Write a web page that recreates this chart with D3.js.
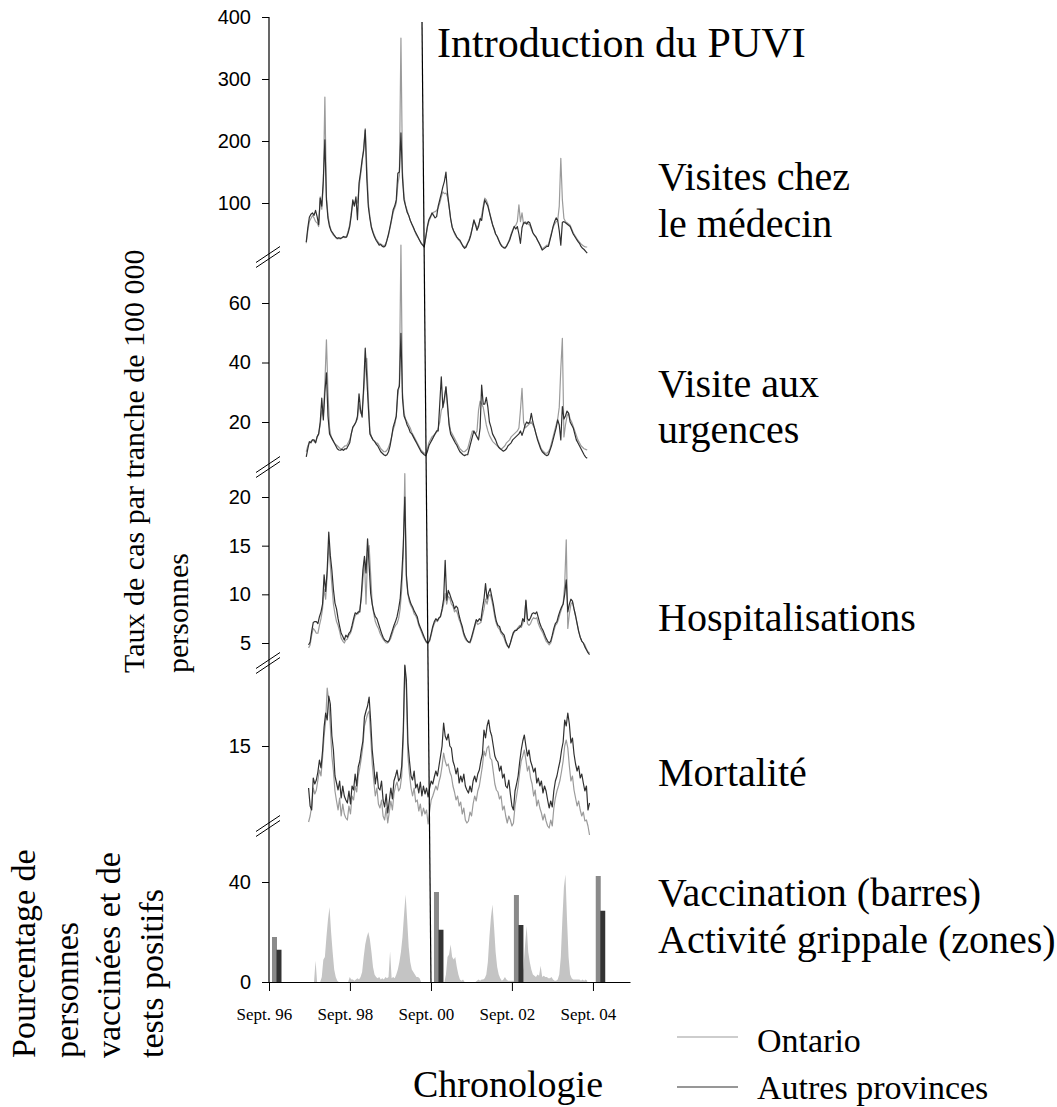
<!DOCTYPE html>
<html>
<head>
<meta charset="utf-8">
<script src="https://cdn.jsdelivr.net/npm/d3@7"></script>
<style>
body { margin: 0; background: #fff; }
.serif { font-family: "Liberation Serif", "Times New Roman", serif; fill: #000; }
.yaxis text { font-family: "Liberation Sans", Arial, sans-serif; font-size: 20px; fill: #000; }
.xaxis text { font-family: "Liberation Serif", "Times New Roman", serif; font-size: 17px; fill: #000; }
</style>
</head>
<body>
<svg id="chart" width="1057" height="1107"></svg>
<script>
// one value every 2 weeks, 7 seasons of 26 values (Aug 1997 -> Jul 2004)

// Visites chez le médecin
var visitsOntario = [
  35,55,70,75,80,76,70,68,62,110,90,130,271,110,80,65,56,50,47,44,42,43,42,44,45,44,
  46,55,65,85,100,98,105,100,125,145,165,190,220,160,100,78,62,54,47,42,38,35,34,32,31,33,
  40,48,60,72,85,92,100,130,145,366,150,110,96,88,80,72,66,60,54,48,44,40,36,33,31,45,
  60,70,76,82,85,86,88,92,100,110,118,115,116,110,95,75,62,54,48,44,41,38,34,31,29,31,
  36,42,50,60,70,66,60,64,72,80,95,108,105,98,86,75,66,58,50,46,40,35,31,29,28,31,
  36,42,50,57,62,64,70,97,70,84,66,70,68,66,64,58,52,48,45,40,36,31,26,28,30,32,
  32,42,52,60,66,70,72,95,172,105,75,70,68,66,64,58,52,48,44,40,37,34,32,30,29,29
];
var visitsOthers = [
  37,60,77,82,84,80,88,78,65,108,95,137,202,105,75,62,55,52,48,45,43,44,43,44,46,45,
  45,52,62,80,105,95,110,73,132,150,170,185,218,140,94,75,60,52,45,40,36,32,33,30,29,31,
  40,50,62,75,89,95,105,148,150,213,140,105,95,85,80,72,66,61,55,50,45,40,35,32,29,45,
  62,73,78,84,80,76,78,95,105,115,126,135,150,116,95,75,61,55,50,45,42,40,35,30,27,29,
  35,40,48,60,73,65,56,62,75,72,90,105,100,95,85,75,65,58,50,46,40,34,30,28,27,30,
  35,40,48,55,62,58,62,50,35,60,68,68,66,70,68,60,52,48,45,40,35,30,24,26,28,30,
  30,40,50,62,70,76,72,55,32,69,70,68,66,64,62,56,50,46,42,38,35,30,27,25,22,19
];

// Visite aux urgences
var erOntario = [
  10,12,13,13.5,14,13.5,13,15,16,19,24,22,33,47.6,30,18,15,14,13,12.5,12,11.5,11,11,11.5,12,
  12,13,14,16,18,19,20,21,26,23,24,30,38,41.4,28,17,15,14,13.5,13,12.8,12,11,10.5,10,10,
  10.5,11.5,13,15,17.5,19,22,29,33,79.5,30,23,21,20,19,18,16.5,15.5,14.5,13.5,12.5,11.5,10.5,10,9.5,9.5,
  11,13,14,15,15.5,16,16.5,18,20,24,25,27,31.8,25,20,17,16,15,14,13,12,11,10.5,10,10,10.5,
  11,13,15,17,16.5,16,17,24,27,26,25,22,19,17,15.5,14.5,13.5,13,12.5,12,11.5,11,11,11.5,12,13,
  13.5,14,15,15.5,16,16.5,17,18,24,31.3,20,18,18.5,19,19.5,20,19,18,16,14.5,13,11.5,10.5,10,9.5,9.5,
  10,11,13,15,17,19,21,25,38,48.1,15,19,22,23,21,20,18.5,17,15.5,14,13,12,11.5,11,10.8,10.6
];
var erOthers = [
  8.3,11,13.4,13,14,14,13,15,16,20,28,20.7,30,36.5,22,16,15,14,13,12,11,10.6,10.5,10.8,10.5,11,
  11,12,13,16,18.3,19,20,22,29.5,24,21.6,32,44.8,35,25,16,15,14,13.5,12.6,12,11,10,9.5,9,8.7,
  9,10,12,15,18.3,20,22,30.8,32,49.8,28,22,20.7,19,18,16.5,16,15,14,13,12,11,10,9.5,9,8.7,
  10,12,13,14,15,16,17,17,26,35.2,24.9,28,31.8,26,19,16,15,14,13,12.2,11,10,9.5,9,8.7,9,
  9,11,13,15,17,16,15,14,18,32.4,26,26,28.3,25,20,18.3,16,15,14,12.5,11.5,11,10.6,10.2,10.5,11,
  12,12.5,13,14,14.5,15,15.5,16,17,15.5,17,19,20,19.5,20,22.9,20,18,16,14,12.5,11,10,9.5,9,8.7,
  9,10.5,12,14,16,18,20.7,19,14,25.2,21,22,23.7,23,20,19,18,16,14,13,12,11,10,9,8.2,7.8
];

// Hospitalisations
var hospOntario = [
  4.5,4.8,5.8,6.5,6.3,6.0,6.0,6.8,7.5,8.5,10.5,9.5,12.0,15.2,13.0,11.0,9.0,8.0,7.2,6.8,6.2,5.5,5.2,5.0,5.3,5.4,
  5.8,6.0,6.5,7.2,7.8,8.0,8.0,8.5,9.5,11.5,13.5,9.0,14.0,15.0,12.0,9.0,8.0,7.2,6.8,6.5,6.0,5.7,5.4,5.2,5.0,5.0,
  5.2,5.5,6.0,6.5,6.8,7.0,7.5,8.5,10.5,14.0,22.4,11.5,10.0,9.2,8.8,8.5,8.0,7.8,7.4,6.8,6.4,6.0,5.6,5.3,5.0,5.0,
  5.2,5.8,6.5,7.0,7.3,7.2,7.5,7.8,8.3,9.0,10.1,9.0,9.8,9.6,9.0,8.8,8.2,8.4,8.0,7.4,7.0,6.4,5.8,5.4,5.2,5.1,
  5.0,5.4,6.0,6.6,7.2,6.9,7.0,7.1,7.8,8.5,9.5,9.0,9.8,10.0,9.4,8.6,7.6,7.0,6.6,6.4,6.0,5.8,5.5,5.0,4.7,4.6,
  5.0,5.5,6.0,6.2,6.4,6.6,6.8,6.6,7.0,7.5,9.3,7.0,6.8,7.0,7.4,7.6,7.5,7.6,7.0,6.6,6.3,6.0,5.6,5.2,5.0,4.8,
  5.0,5.6,6.2,6.8,7.0,7.4,8.0,8.5,9.0,11.0,15.6,6.5,8.0,9.0,9.2,8.5,7.8,7.0,6.2,5.6,5.2,5.0,4.8,4.4,4.1,4.0
];
var hospOthers = [
  4.8,5.1,6.2,7.1,7.2,7.2,7.0,7.7,8.2,9.0,12.0,10.3,12.5,16.4,14.0,12.5,10.5,9.1,8.5,7.5,6.7,6.0,5.7,5.3,5.8,5.6,
  6.0,6.2,6.8,7.5,8.1,8.0,8.2,8.2,10,12.5,13.9,12.2,15.7,13,10.1,9,8.2,7.7,7.5,7,6.5,6.0,5.6,5.3,5.2,5.1,
  5.3,5.8,6.3,6.8,7.2,7.7,8.5,9.5,11.8,15,20.0,12,10.1,9.5,9.0,8.7,8.3,8.0,7.7,7.0,6.6,6.2,5.8,5.4,5.1,5.0,
  5.3,6.0,6.7,7.2,7.5,7.3,7.6,7.7,8.5,9.5,13.5,9.4,10.4,10,9.5,9.1,8.5,8.8,8.6,7.8,7.2,6.7,6.0,5.6,5.3,5.1,
  5.1,5.6,6.2,6.8,7.4,7.2,7.5,7.3,8.5,9.5,11.1,9.5,10.2,10.6,9.8,9.0,8.0,7.2,6.8,6.7,6.2,6.0,5.8,5.2,4.8,4.5,
  5.0,5.6,6.1,6.3,6.3,6.5,6.6,6.8,7.5,7.2,9.4,7.5,7.3,7.6,8.0,8.1,8.0,8.2,7.6,7.0,6.6,6.3,5.9,5.5,5.2,5.0,
  5.2,5.8,6.5,7.0,7.2,7.8,8.3,8.7,9.0,10.0,11.5,8.2,9.0,9.5,9.3,8.5,7.8,7.0,6.2,5.6,5.2,5.0,4.6,4.3,4.0,3.8
];

// Mortalité
var deathsOntario = [
  7.4,8.0,9.0,10.8,10.2,10.6,11.6,12.6,12.0,13.8,16.0,17.5,20.8,19.5,17.0,14.0,12.5,10.5,9.5,8.6,9.8,8.0,9.2,8.2,7.8,7.6,
  9.0,8.2,10.0,9.6,11.0,10.4,12.0,12.8,13.8,15.0,17.0,17.6,18.2,18.5,16.0,13.2,11.5,10.0,10.8,9.2,8.8,9.6,8.0,7.6,8.8,7.3,
  8.4,9.5,8.6,10.2,11.0,11.4,10.5,10.8,12.0,15.5,23.0,20.5,14.0,12.2,10.8,10.0,10.8,9.4,9.6,8.5,9.2,8.0,8.8,8.2,8.6,7.2,
  8.5,9.6,10.0,10.5,11.0,10.6,11.4,12.0,13.0,14.3,13.5,13.0,13.2,12.4,12.0,11.0,10.4,9.6,10.0,9.0,9.4,8.2,8.8,7.6,7.3,7.5,
  8.4,8.0,9.2,10.0,9.5,10.5,11.0,12.0,13.0,14.5,14.0,14.8,15.0,13.8,13.6,12.4,11.2,10.6,10.4,9.7,10.0,8.6,9.0,8.0,7.3,8.0,
  7.6,7.0,7.3,9.0,10.0,11.0,12.4,13.5,14.0,14.6,13.6,12.5,13.0,11.8,11.2,10.0,10.6,9.0,9.6,8.8,8.3,7.6,8.2,7.5,7.0,6.8,
  7.6,7.0,8.8,9.8,10.5,11.0,11.6,12.5,13.5,15.0,15.6,14.8,13.0,11.5,12.0,10.6,9.8,9.0,9.5,8.6,8.0,8.4,7.5,7.6,7.0,6.1
];
var deathsOthers = [
  10.8,9.0,8.6,11.8,11.2,11.6,12.4,13.6,12.8,14.5,16.9,18.3,17.6,20.0,19.2,16.0,14.6,12.0,11.3,10.6,11.5,9.8,11.0,10.0,9.6,9.3,
  10.5,9.2,11.0,10.6,12.2,11.0,12.9,13.5,14.6,15.5,17.9,18.5,19.0,19.9,17.5,14.6,13.0,11.2,12.4,10.8,10.6,11.5,9.6,8.9,10.2,8.3,
  9.5,10.8,9.7,11.5,12.0,12.6,11.5,11.8,13.0,16.5,23.1,21.6,15.3,13.5,12.0,11.6,12.5,10.8,11.2,10.3,11.4,10.0,11.0,10.2,10.8,9.9,
  10.8,11.5,11.2,11.9,12.5,12.0,13.0,14.0,15.0,17.3,16.0,15.6,16.2,15.0,14.8,13.5,13.0,12.2,12.8,11.3,12.0,11.4,12.2,11.0,10.6,10.3,
  11.0,10.4,11.5,12.0,11.4,12.2,12.6,13.5,14.2,16.6,15.8,17.0,17.6,16.5,16.0,15.0,14.0,13.6,13.4,12.5,13.0,11.8,12.2,11.0,10.8,11.6,
  10.2,9.0,8.6,10.5,11.2,12.0,13.4,14.6,15.5,16.1,15.0,14.0,14.6,13.5,13.0,12.4,12.8,11.3,11.8,11.0,11.5,10.3,11.0,10.5,9.6,8.8,
  9.5,8.9,10.5,11.5,12.0,12.8,13.5,14.6,15.4,17.6,17.0,18.3,17.2,15.3,15.8,14.2,13.2,12.5,13.0,11.8,12.2,11.3,10.5,11.0,8.6,9.3
];

// Activité grippale (% de tests positifs)
var fluPositive = [
  0,0,0,0,0,0,8.5,0,0,0,2,8.9,10,18,25,30,20,12,5,2,0.5,0,0,0,0,0,
  0,0,2,1,1,0.5,1,1.5,1,2,4,10,15,18,20,17,12,6,3,2,1.5,2,1,1.5,1,2,
  1.5,2,12.3,1.5,2,1.5,3,5,8,12,18,27,35,25,14,8,5,4,3,2,2,1.5,0,0,0,0,
  0,0,0,0,0,0,0,0,0,0,0,0,3,10,11,15,10,9,10,6,3,1,0.5,1,0,0,
  0,0,0,0,0,0,0.5,1,0.5,1,1,1.5,3,8,18,26,31,22,12,6,3,1.5,0.5,1,2,1,
  0.5,0.5,0.5,0.5,0.5,1,1,1,1,2,6,15,22.4,12,8,5,3,2.5,2,3,2.5,6.5,2,2.5,2,2,
  1.5,1.5,2,1,0.5,0.5,1,3,10,25,38,43,25,10,3,1.5,1,1,1,1,1,0.5,1,0.5,1,0.5
];

// Vaccination (barres)
var vaccDates = ["1996-09-28", "2000-09-28", "2002-09-19", "2004-09-26"];
var vaccOntario = [18, 36, 34.8, 42.4];
var vaccOthers = [12.9, 20.9, 22.8, 28.5];

var xTicks = ["1996-09-01", "1998-09-01", "2000-09-01", "2002-09-01", "2004-09-01"];
var xTickLabels = ["Sept. 96", "Sept. 98", "Sept. 00", "Sept. 02", "Sept. 04"];

var colOntario = "#9b9b9b", colOthers = "#303030";
var parse = d3.timeParse("%Y-%m-%d");

var svg = d3.select("#chart");
svg.append("rect").attr("width", 1057).attr("height", 1107).attr("fill", "#fff");

var x = d3.scaleTime()
    .domain([new Date(1996, 8, 1), new Date(2005, 7, 1)])
    .range([269, 630]);

var panels = [
  { ont: visitsOntario, aut: visitsOthers, start: new Date(1997, 7, 3),
    y: d3.scaleLinear().domain([0, 400]).range([265, 17]), ticks: [100, 200, 300, 400] },
  { ont: erOntario, aut: erOthers, start: new Date(1997, 7, 3),
    y: d3.scaleLinear().domain([20, 60]).range([422, 303]), ticks: [20, 40, 60] },
  { ont: hospOntario, aut: hospOthers, start: new Date(1997, 7, 24),
    y: d3.scaleLinear().domain([5, 20]).range([643, 497]), ticks: [5, 10, 15, 20] },
  { ont: deathsOntario, aut: deathsOthers, start: new Date(1997, 7, 24),
    y: d3.scaleLinear().domain([15, 20]).range([746, 696]), ticks: [15] }
];
var yBottom = d3.scaleLinear().domain([0, 40]).range([982, 882]);
var breaks = [257, 467, 663, 826];

function withDates(values, start) {
  return values.map(function(v, i) {
    return { date: d3.timeDay.offset(start, 14 * i), value: v };
  });
}

// bottom panel: flu activity areas, then vaccination bars
var flu = withDates(fluPositive, new Date(1997, 7, 3));
svg.append("path")
    .datum(flu)
    .attr("fill", "#c4c4c4")
    .attr("d", d3.area()
        .x(function(d) { return x(d.date); })
        .y0(yBottom(0))
        .y1(function(d) { return yBottom(d.value); }));

var bars = vaccDates.map(function(d, i) {
  return { date: parse(d), ont: vaccOntario[i], aut: vaccOthers[i] };
});
svg.selectAll(".barOnt").data(bars).enter().append("rect")
    .attr("x", function(d) { return x(d.date); })
    .attr("width", 5)
    .attr("y", function(d) { return yBottom(d.ont); })
    .attr("height", function(d) { return yBottom(0) - yBottom(d.ont); })
    .attr("fill", "#8a8a8a");
svg.selectAll(".barAut").data(bars).enter().append("rect")
    .attr("x", function(d) { return x(d.date) + 4.5; })
    .attr("width", 5)
    .attr("y", function(d) { return yBottom(d.aut); })
    .attr("height", function(d) { return yBottom(0) - yBottom(d.aut); })
    .attr("fill", "#333");

// line panels
panels.forEach(function(p) {
  var line = d3.line()
      .x(function(d) { return x(d.date); })
      .y(function(d) { return p.y(d.value); });
  svg.append("path").datum(withDates(p.ont, p.start))
      .attr("fill", "none").attr("stroke", colOntario).attr("stroke-width", 1.2)
      .attr("stroke-linejoin", "round").attr("d", line);
  svg.append("path").datum(withDates(p.aut, p.start))
      .attr("fill", "none").attr("stroke", colOthers).attr("stroke-width", 1.2)
      .attr("stroke-linejoin", "round").attr("d", line);

  var g = svg.append("g").attr("class", "yaxis")
      .call(d3.axisLeft(p.y).tickValues(p.ticks).tickSize(7).tickPadding(11).tickSizeOuter(0)
          .tickFormat(function(d) { return d; }));
  g.attr("transform", "translate(" + x.range()[0] + ",0)");
  g.select(".domain").remove();
});

var gb = svg.append("g").attr("class", "yaxis")
    .attr("transform", "translate(" + x.range()[0] + ",0)")
    .call(d3.axisLeft(yBottom).tickValues([0, 40]).tickSize(7).tickPadding(11).tickSizeOuter(0));
gb.select(".domain").remove();

// continuous vertical axis with break marks
svg.append("line")
    .attr("x1", x.range()[0]).attr("x2", x.range()[0])
    .attr("y1", panels[0].y.range()[1]).attr("y2", yBottom(0))
    .attr("stroke", "#000").attr("stroke-width", 1.2);

breaks.forEach(function(b) {
  [-2.5, 2.5].forEach(function(off) {
    svg.append("line")
        .attr("x1", x.range()[0] - 13).attr("y1", b + 8 + off)
        .attr("x2", x.range()[0] + 11).attr("y2", b - 8 + off)
        .attr("stroke", "#000").attr("stroke-width", 1);
  });
});

// time axis
var gx = svg.append("g").attr("class", "xaxis")
    .attr("transform", "translate(0," + yBottom(0) + ")")
    .call(d3.axisBottom(x)
        .tickValues(xTicks.map(parse))
        .tickSize(9).tickPadding(17).tickSizeOuter(0)
        .tickFormat(function(d, i) { return xTickLabels[i]; }));
gx.selectAll("text").attr("dx", "-0.3em");
gx.select(".domain").attr("stroke-width", 1.2);

// PUVI introduction marker
svg.append("line")
    .attr("x1", x(new Date(2000, 5, 12))).attr("y1", 22)
    .attr("x2", x(new Date(2000, 8, 1))).attr("y2", yBottom(0))
    .attr("stroke", "#000").attr("stroke-width", 1.2);

function label(txt, px, py, size, anchor) {
  return svg.append("text").attr("class", "serif")
      .attr("x", px).attr("y", py)
      .attr("font-size", size + "px")
      .attr("text-anchor", anchor || "start")
      .text(txt);
}

label("Introduction du PUVI", 437, 57, 42);
label("Visites chez", 658, 190, 40);
label("le médecin", 658, 237, 40);
label("Visite aux", 658, 397, 40);
label("urgences", 658, 443, 40);
label("Hospitalisations", 658, 631, 40);
label("Mortalité", 658, 786, 40);
label("Vaccination (barres)", 658, 906, 40);
label("Activité grippale (zones)", 658, 953, 40);

// rotated titles
var leftTitle = ["Taux de cas par tranche de 100 000", "personnes"];
leftTitle.forEach(function(t, i) {
  svg.append("text").attr("class", "serif")
      .attr("transform", "translate(" + (144 + i * 44) + ",673) rotate(-90)")
      .attr("font-size", "30px")
      .text(t);
});
var bottomTitle = ["Pourcentage de", "personnes", "vaccinées et de", "tests positifs"];
bottomTitle.forEach(function(t, i) {
  svg.append("text").attr("class", "serif")
      .attr("transform", "translate(" + (35 + i * 42.5) + ",1058) rotate(-90)")
      .attr("font-size", "34px")
      .text(t);
});

label("Chronologie", 603, 1097, 38, "end");

// legend
var legend = [["Ontario", colOntario], ["Autres provinces", colOthers]];
legend.forEach(function(l, i) {
  svg.append("line")
      .attr("x1", 677).attr("x2", 738)
      .attr("y1", 1037 + i * 50).attr("y2", 1037 + i * 50)
      .attr("stroke", l[1]).attr("stroke-width", 1.2);
  label(l[0], 757, 1052 + i * 47, 34);
});
</script>
</body>
</html>
